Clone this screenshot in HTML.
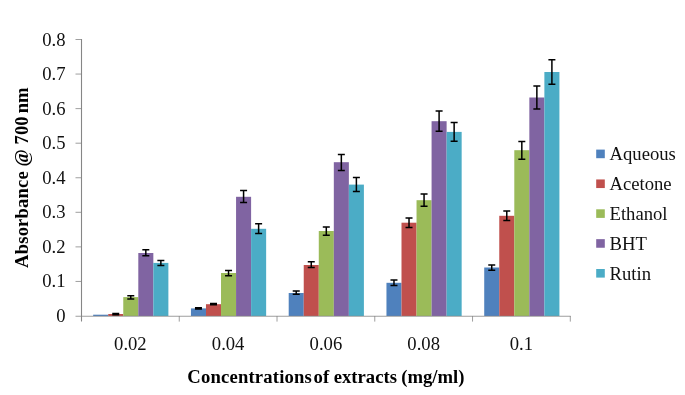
<!DOCTYPE html>
<html><head><meta charset="utf-8"><title>Chart</title>
<style>
html,body{margin:0;padding:0;background:#fff;}
svg{display:block;font-family:"Liberation Serif","Times New Roman",serif;}
</style></head><body>
<svg width="685" height="395" viewBox="0 0 685 395">
<rect width="685" height="395" fill="#ffffff"/>
<rect x="93.18" y="314.70" width="15.04" height="1.30" fill="#4F81BD"/>
<rect x="108.22" y="314.00" width="15.04" height="2.00" fill="#C0504D"/>
<rect x="123.26" y="297.10" width="15.04" height="18.90" fill="#9BBB59"/>
<rect x="138.30" y="253.00" width="15.04" height="63.00" fill="#8064A2"/>
<rect x="153.34" y="262.90" width="15.04" height="53.10" fill="#4BACC6"/>
<rect x="190.94" y="308.40" width="15.04" height="7.60" fill="#4F81BD"/>
<rect x="205.98" y="304.20" width="15.04" height="11.80" fill="#C0504D"/>
<rect x="221.02" y="273.00" width="15.04" height="43.00" fill="#9BBB59"/>
<rect x="236.06" y="196.80" width="15.04" height="119.20" fill="#8064A2"/>
<rect x="251.10" y="228.80" width="15.04" height="87.20" fill="#4BACC6"/>
<rect x="288.70" y="293.00" width="15.04" height="23.00" fill="#4F81BD"/>
<rect x="303.74" y="265.00" width="15.04" height="51.00" fill="#C0504D"/>
<rect x="318.78" y="231.00" width="15.04" height="85.00" fill="#9BBB59"/>
<rect x="333.82" y="162.20" width="15.04" height="153.80" fill="#8064A2"/>
<rect x="348.86" y="184.60" width="15.04" height="131.40" fill="#4BACC6"/>
<rect x="386.46" y="282.80" width="15.04" height="33.20" fill="#4F81BD"/>
<rect x="401.50" y="222.70" width="15.04" height="93.30" fill="#C0504D"/>
<rect x="416.54" y="200.20" width="15.04" height="115.80" fill="#9BBB59"/>
<rect x="431.58" y="121.20" width="15.04" height="194.80" fill="#8064A2"/>
<rect x="446.62" y="131.90" width="15.04" height="184.10" fill="#4BACC6"/>
<rect x="484.22" y="267.50" width="15.04" height="48.50" fill="#4F81BD"/>
<rect x="499.26" y="215.80" width="15.04" height="100.20" fill="#C0504D"/>
<rect x="514.30" y="150.20" width="15.04" height="165.80" fill="#9BBB59"/>
<rect x="529.34" y="97.50" width="15.04" height="218.50" fill="#8064A2"/>
<rect x="544.38" y="72.00" width="15.04" height="244.00" fill="#4BACC6"/>
<g stroke="#868686" fill="none">
<line x1="81.5" y1="39.1" x2="81.5" y2="321.6" stroke-width="1.1"/>
<line x1="75.5" y1="316.25" x2="570.6999999999999" y2="316.25" stroke-width="0.8"/>
<line x1="75.5" y1="281.44" x2="81.5" y2="281.44" stroke-width="0.8"/>
<line x1="75.5" y1="246.88" x2="81.5" y2="246.88" stroke-width="0.8"/>
<line x1="75.5" y1="212.31" x2="81.5" y2="212.31" stroke-width="0.8"/>
<line x1="75.5" y1="177.75" x2="81.5" y2="177.75" stroke-width="0.8"/>
<line x1="75.5" y1="143.19" x2="81.5" y2="143.19" stroke-width="0.8"/>
<line x1="75.5" y1="108.62" x2="81.5" y2="108.62" stroke-width="0.8"/>
<line x1="75.5" y1="74.06" x2="81.5" y2="74.06" stroke-width="0.8"/>
<line x1="75.5" y1="39.50" x2="81.5" y2="39.50" stroke-width="0.8"/>
<line x1="179.26" y1="316.0" x2="179.26" y2="321.6" stroke-width="0.8"/>
<line x1="277.02" y1="316.0" x2="277.02" y2="321.6" stroke-width="0.8"/>
<line x1="374.78" y1="316.0" x2="374.78" y2="321.6" stroke-width="0.8"/>
<line x1="472.54" y1="316.0" x2="472.54" y2="321.6" stroke-width="0.8"/>
<line x1="570.30" y1="316.0" x2="570.30" y2="321.6" stroke-width="0.8"/>
</g>
<g stroke="#000" stroke-width="1.5" fill="none">
<path d="M112.24 313.40H119.24M112.24 314.70H119.24M115.74 313.40V314.70"/>
<path d="M127.28 295.80H134.28M127.28 298.90H134.28M130.78 295.80V298.90"/>
<path d="M142.32 249.70H149.32M142.32 255.80H149.32M145.82 249.70V255.80"/>
<path d="M157.36 260.40H164.36M157.36 265.40H164.36M160.86 260.40V265.40"/>
<path d="M194.96 307.80H201.96M194.96 309.00H201.96M198.46 307.80V309.00"/>
<path d="M210.00 303.60H217.00M210.00 304.80H217.00M213.50 303.60V304.80"/>
<path d="M225.04 270.40H232.04M225.04 275.70H232.04M228.54 270.40V275.70"/>
<path d="M240.08 190.50H247.08M240.08 202.60H247.08M243.58 190.50V202.60"/>
<path d="M255.12 223.80H262.12M255.12 233.50H262.12M258.62 223.80V233.50"/>
<path d="M292.72 291.00H299.72M292.72 294.30H299.72M296.22 291.00V294.30"/>
<path d="M307.76 261.80H314.76M307.76 267.40H314.76M311.26 261.80V267.40"/>
<path d="M322.80 227.00H329.80M322.80 235.30H329.80M326.30 227.00V235.30"/>
<path d="M337.84 154.40H344.84M337.84 170.40H344.84M341.34 154.40V170.40"/>
<path d="M352.88 177.40H359.88M352.88 191.40H359.88M356.38 177.40V191.40"/>
<path d="M390.48 280.00H397.48M390.48 285.50H397.48M393.98 280.00V285.50"/>
<path d="M405.52 217.90H412.52M405.52 227.40H412.52M409.02 217.90V227.40"/>
<path d="M420.56 193.90H427.56M420.56 206.30H427.56M424.06 193.90V206.30"/>
<path d="M435.60 111.10H442.60M435.60 131.20H442.60M439.10 111.10V131.20"/>
<path d="M450.64 122.50H457.64M450.64 141.30H457.64M454.14 122.50V141.30"/>
<path d="M488.24 264.90H495.24M488.24 270.30H495.24M491.74 264.90V270.30"/>
<path d="M503.28 211.10H510.28M503.28 220.60H510.28M506.78 211.10V220.60"/>
<path d="M518.32 141.40H525.32M518.32 159.20H525.32M521.82 141.40V159.20"/>
<path d="M533.36 85.90H540.36M533.36 108.90H540.36M536.86 85.90V108.90"/>
<path d="M548.40 59.80H555.40M548.40 84.20H555.40M551.90 59.80V84.20"/>
</g>
<g font-size="18.67" fill="#111" text-anchor="end">
<text x="65.5" y="322.00">0</text>
<text x="65.5" y="287.44">0.1</text>
<text x="65.5" y="252.88">0.2</text>
<text x="65.5" y="218.31">0.3</text>
<text x="65.5" y="183.75">0.4</text>
<text x="65.5" y="149.19">0.5</text>
<text x="65.5" y="114.62">0.6</text>
<text x="65.5" y="80.06">0.7</text>
<text x="65.5" y="45.50">0.8</text>
</g>
<g font-size="18.67" fill="#111" text-anchor="middle">
<text x="130.38" y="349.8">0.02</text>
<text x="228.14" y="349.8">0.04</text>
<text x="325.90" y="349.8">0.06</text>
<text x="423.66" y="349.8">0.08</text>
<text x="521.42" y="349.8">0.1</text>
</g>
<text x="187.3" y="383" font-size="18.67" font-weight="bold" fill="#000"><tspan letter-spacing="0.17">Concentrations</tspan> <tspan x="313.6">of </tspan><tspan x="333.75">extracts </tspan><tspan x="401.2">(mg/ml)</tspan></text>
<text transform="translate(27.9 267.9) rotate(-90)" font-size="18.67" font-weight="bold" fill="#000"><tspan letter-spacing="0.14">Absorbance</tspan> @ 700<tspan dx="-1.5"> nm</tspan></text>
<rect x="596.2" y="149.60" width="8.6" height="8.6" fill="#4F81BD"/>
<text x="609.5" y="160.40" font-size="18.67" fill="#111">Aqueous</text>
<rect x="596.2" y="179.45" width="8.6" height="8.6" fill="#C0504D"/>
<text x="609.5" y="190.25" font-size="18.67" fill="#111">Acetone</text>
<rect x="596.2" y="209.30" width="8.6" height="8.6" fill="#9BBB59"/>
<text x="609.5" y="220.10" font-size="18.67" fill="#111">Ethanol</text>
<rect x="596.2" y="239.15" width="8.6" height="8.6" fill="#8064A2"/>
<text x="609.5" y="249.95" font-size="18.67" fill="#111">BHT</text>
<rect x="596.2" y="269.00" width="8.6" height="8.6" fill="#4BACC6"/>
<text x="609.5" y="279.80" font-size="18.67" fill="#111">Rutin</text>
</svg>
</body></html>
